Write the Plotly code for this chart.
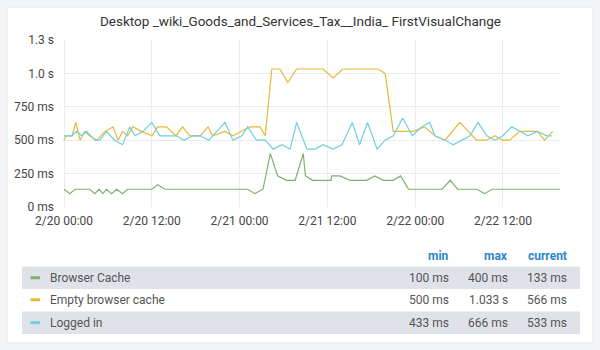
import pandas as pd
import plotly.graph_objects as go

# ---------------- data ----------------
title = "Desktop _wiki_Goods_and_Services_Tax__India_ FirstVisualChange"
base = pd.Timestamp("2019-02-20 00:00")

series_names = ["Browser Cache", "Empty browser cache", "Logged in"]
series_colors = ["#7eb26d", "#eab839", "#6ed0e0"]

# hours after 2/20 00:00, values in ms
browser_h = [0, 0.8, 1.5, 3.5, 4.2, 4.8, 5.3, 5.8, 6.5, 7.2, 8.0, 8.7, 12.0, 12.8, 13.8,
             25.1, 26.1, 27.2, 28.2, 29.2, 30.4, 31.6, 32.7, 33.0, 34.0, 36.5, 36.6, 37.7,
             39.1, 41.4, 42.5, 43.6, 45.0, 46.0, 47.1, 51.7, 52.8, 53.8, 56.4, 57.5, 58.5, 67.8]
browser_v = [133, 100, 133, 133, 100, 133, 100, 133, 100, 133, 100, 133, 133, 166, 133,
             133, 100, 133, 400, 233, 200, 200, 400, 233, 200, 200, 233, 233,
             200, 200, 233, 200, 200, 233, 133, 133, 200, 133, 133, 100, 133, 133]

empty_h = [0, 0.3, 1.1, 1.6, 2.2, 2.8, 3.5, 4.5, 5.6, 6.7, 7.4, 8.0, 8.7, 9.4, 10.6, 12.0,
           12.8, 14.0, 15.3, 16.2, 17.2, 18.6, 19.7, 20.3, 22.0, 23.1, 25.4, 26.8, 27.5,
           28.4, 29.5, 30.6, 31.8, 35.4, 36.8, 38.1, 42.9, 43.9, 45.0, 47.7, 49.3, 50.7,
           52.1, 54.1, 56.4, 57.8, 58.9, 59.9, 60.9, 62.3, 64.7, 65.7, 66.8]
empty_v = [500, 533, 533, 633, 500, 566, 533, 500, 566, 600, 500, 566, 533, 600, 566, 533,
           600, 600, 533, 600, 533, 533, 600, 533, 566, 533, 600, 600, 533,
           1033, 1033, 933, 1033, 1033, 966, 1033, 1033, 1000, 566, 566, 600, 533,
           500, 633, 500, 500, 533, 500, 500, 566, 566, 500, 566]

logged_h = [0, 1.1, 1.7, 2.4, 3.1, 4.2, 4.9, 5.8, 6.9, 8.0, 9.0, 9.7, 10.8, 12.0, 13.1,
            15.4, 16.4, 17.6, 18.6, 19.8, 20.9, 22.0, 23.1, 24.3, 25.1, 26.3, 27.5, 28.6,
            29.8, 30.9, 31.8, 33.2, 34.3, 35.4, 36.8, 38.0, 39.4, 40.4, 41.5, 42.8, 43.9,
            45.0, 46.3, 47.6, 48.9, 50.0, 50.7, 52.1, 53.2, 54.4, 55.5, 56.6, 57.8, 58.9,
            60.0, 61.2, 62.3, 63.4, 64.7, 66.0, 66.7]
logged_v = [533, 533, 566, 533, 566, 500, 500, 566, 500, 466, 600, 533, 566, 633, 533,
            533, 500, 533, 533, 500, 566, 633, 500, 533, 600, 500, 500, 433,
            466, 433, 633, 433, 433, 466, 433, 466, 633, 466, 633, 433, 500,
            533, 666, 533, 600, 633, 533, 500, 466, 500, 533, 633, 533, 500,
            533, 600, 566, 533, 566, 533, 533]

y_tickvals = [0, 250, 500, 750, 1000, 1250]
y_ticktext = ["0 ms", "250 ms", "500 ms", "750 ms", "1.0 s", "1.3 s"]

legend_headers = ["min", "max", "current"]
legend_min = ["100 ms", "500 ms", "433 ms"]
legend_max = ["400 ms", "1.033 s", "666 ms"]
legend_cur = ["133 ms", "566 ms", "533 ms"]

# ---------------- layout geometry (pixels) ----------------
W, H = 600, 350
L, R, T, B = 63, 40, 40, 143
PW, PH = W - L - R, H - T - B


def px(x):
    return (x - L) / PW


def py(y):
    return (H - B - y) / PH


FONT = "Roboto, 'Open Sans', sans-serif"

fig = go.Figure()
for name, col, hs, vs in zip(series_names, series_colors,
                             [browser_h, empty_h, logged_h],
                             [browser_v, empty_v, logged_v]):
    fig.add_trace(go.Scatter(
        x=[base + pd.Timedelta(hours=h) for h in hs], y=vs, mode="lines",
        name=name, line=dict(color=col, width=1.2), showlegend=False))

shapes = []
annotations = []

# panel
shapes.append(dict(type="rect", xref="paper", yref="paper", layer="below",
                   x0=px(7), x1=px(593), y0=py(7), y1=py(343),
                   fillcolor="white", line=dict(color="#e4e6ea", width=1)))

annotations.append(dict(text=title, xref="paper", yref="paper", x=px(300), y=py(21),
                        showarrow=False, xanchor="center", yanchor="middle",
                        font=dict(family=FONT, size=13.5, color="#333333", weight="normal")))

# legend table
col_right = [451, 510, 569]
for hdr, xr in zip(legend_headers, col_right):
    annotations.append(dict(text=hdr, xref="paper", yref="paper", x=px(xr), y=py(256),
                            showarrow=False, xanchor="right", yanchor="middle",
                            font=dict(family=FONT, size=12, color="#2c87c5", weight="bold")))

row_tops = [266.5, 288.5, 311.5]
row_h = 22.5
for i, name in enumerate(series_names):
    top = row_tops[i]
    cy = top + row_h / 2
    if i != 1:
        shapes.append(dict(type="rect", xref="paper", yref="paper", layer="below",
                           x0=px(22), x1=px(580), y0=py(top), y1=py(top + row_h),
                           fillcolor="#dfe3e9", line=dict(width=0)))
    shapes.append(dict(type="line", xref="paper", yref="paper",
                       x0=px(30.5), x1=px(40), y0=py(cy), y1=py(cy),
                       line=dict(color=series_colors[i], width=3)))
    annotations.append(dict(text=name, xref="paper", yref="paper", x=px(48), y=py(cy),
                            showarrow=False, xanchor="left", yanchor="middle",
                            font=dict(family=FONT, size=12, color="#555555")))
    for val, xr in zip([legend_min[i], legend_max[i], legend_cur[i]], col_right):
        annotations.append(dict(text=val, xref="paper", yref="paper", x=px(xr), y=py(cy),
                                showarrow=False, xanchor="right", yanchor="middle",
                                font=dict(family=FONT, size=12, color="#555555")))

fig.update_layout(
    width=W, height=H,
    margin=dict(l=L, r=R, t=T, b=B, pad=0),
    paper_bgcolor="#f3f4f6", plot_bgcolor="white",
    font=dict(family=FONT, size=12, color="#464646"),
    shapes=shapes, annotations=annotations,
    xaxis=dict(range=[base - pd.Timedelta(hours=0.14), base + pd.Timedelta(hours=67.8)],
               tickformat="%-m/%d %H:%M", dtick=12 * 3600 * 1000,
               tick0=base, showgrid=True, gridcolor="#ececec", gridwidth=1,
               zeroline=False, showline=False, ticks="", ticklen=0,
               ticklabelstandoff=5,
               tickfont=dict(size=12, color="#464646")),
    yaxis=dict(range=[0, 1250], tickvals=y_tickvals, ticktext=y_ticktext,
               showgrid=True, gridcolor="#ececec", gridwidth=1, zeroline=False,
               showline=False, ticks="", ticklen=0, ticklabelstandoff=8,
               tickfont=dict(size=12, color="#464646")),
)

fig.write_html("out.html")
